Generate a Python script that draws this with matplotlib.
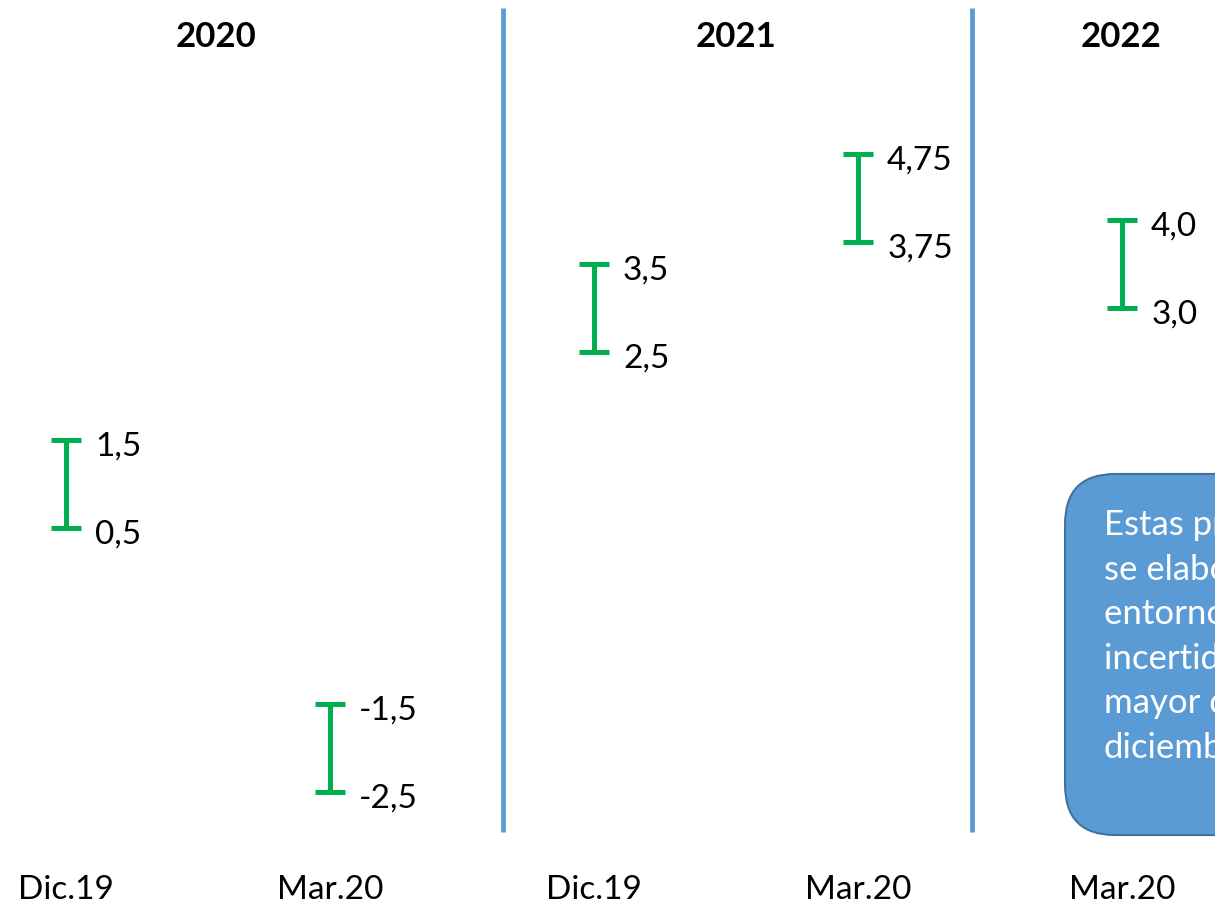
import matplotlib.pyplot as plt
from matplotlib.patches import FancyBboxPatch

plt.rcParams['font.family'] = ['Lato', 'DejaVu Sans']

# data
categories = ["Dic.19", "Mar.20", "Dic.19", "Mar.20", "Mar.20"]
upper = [1.5, -1.5, 3.5, 4.75, 4.0]
lower = [0.5, -2.5, 2.5, 3.75, 3.0]
upper_lbl = ["1,5", "-1,5", "3,5", "4,75", "4,0"]
lower_lbl = ["0,5", "-2,5", "2,5", "3,75", "3,0"]
years = ["2020", "2021", "2022"]
year_pos = [0.568, 2.538, 3.996]
separators = [1.655, 3.432]
note_lines = ["Estas proyecciones", "se elaboraron en un", "entorno de",
              "incertidumbre", "mayor que en", "diciembre"]

green = "#00B050"
blue = "#5B9BD5"

fig = plt.figure(figsize=(12.15, 9.08), dpi=100)
ax = fig.add_axes([0, 0, 1, 1])
ax.set_xlim(-0.25, 4.352)
ax.set_ylim(-3.818, 6.5)
ax.axis("off")

# range bars
for i in range(len(categories)):
    ax.plot([i, i], [lower[i], upper[i]], color=green, lw=3.6, solid_capstyle="butt")
    for v in (lower[i], upper[i]):
        ax.plot([i - 0.057, i + 0.057], [v, v], color=green, lw=3.6, solid_capstyle="butt")
    ax.text(i + 0.11, upper[i] - 0.07, upper_lbl[i], fontsize=24, va="center", ha="left")
    ax.text(i + 0.11, lower[i] - 0.07, lower_lbl[i], fontsize=24, va="center", ha="left")
    ax.text(i, -3.614, categories[i], fontsize=24, va="center", ha="center")

# separators
for s in separators:
    ax.plot([s, s], [6.41, -2.95], color=blue, lw=3.4, solid_capstyle="butt")

# year headers
for y, p in zip(years, year_pos):
    ax.text(p, 6.08, y, fontsize=25, fontweight="bold", va="center", ha="center")

# note box
box = FancyBboxPatch((3.784, -2.989), 1.5, 4.103,
                     boxstyle="round,pad=0,rounding_size=0.19", mutation_aspect=3,
                     facecolor=blue, edgecolor="#41719C", lw=1.5)
ax.add_patch(box)
for k, line in enumerate(note_lines):
    ax.text(3.93, 0.53 - k * 0.505, line, fontsize=25, color="white", va="center", ha="left")

fig.savefig("out.png", dpi=100)
